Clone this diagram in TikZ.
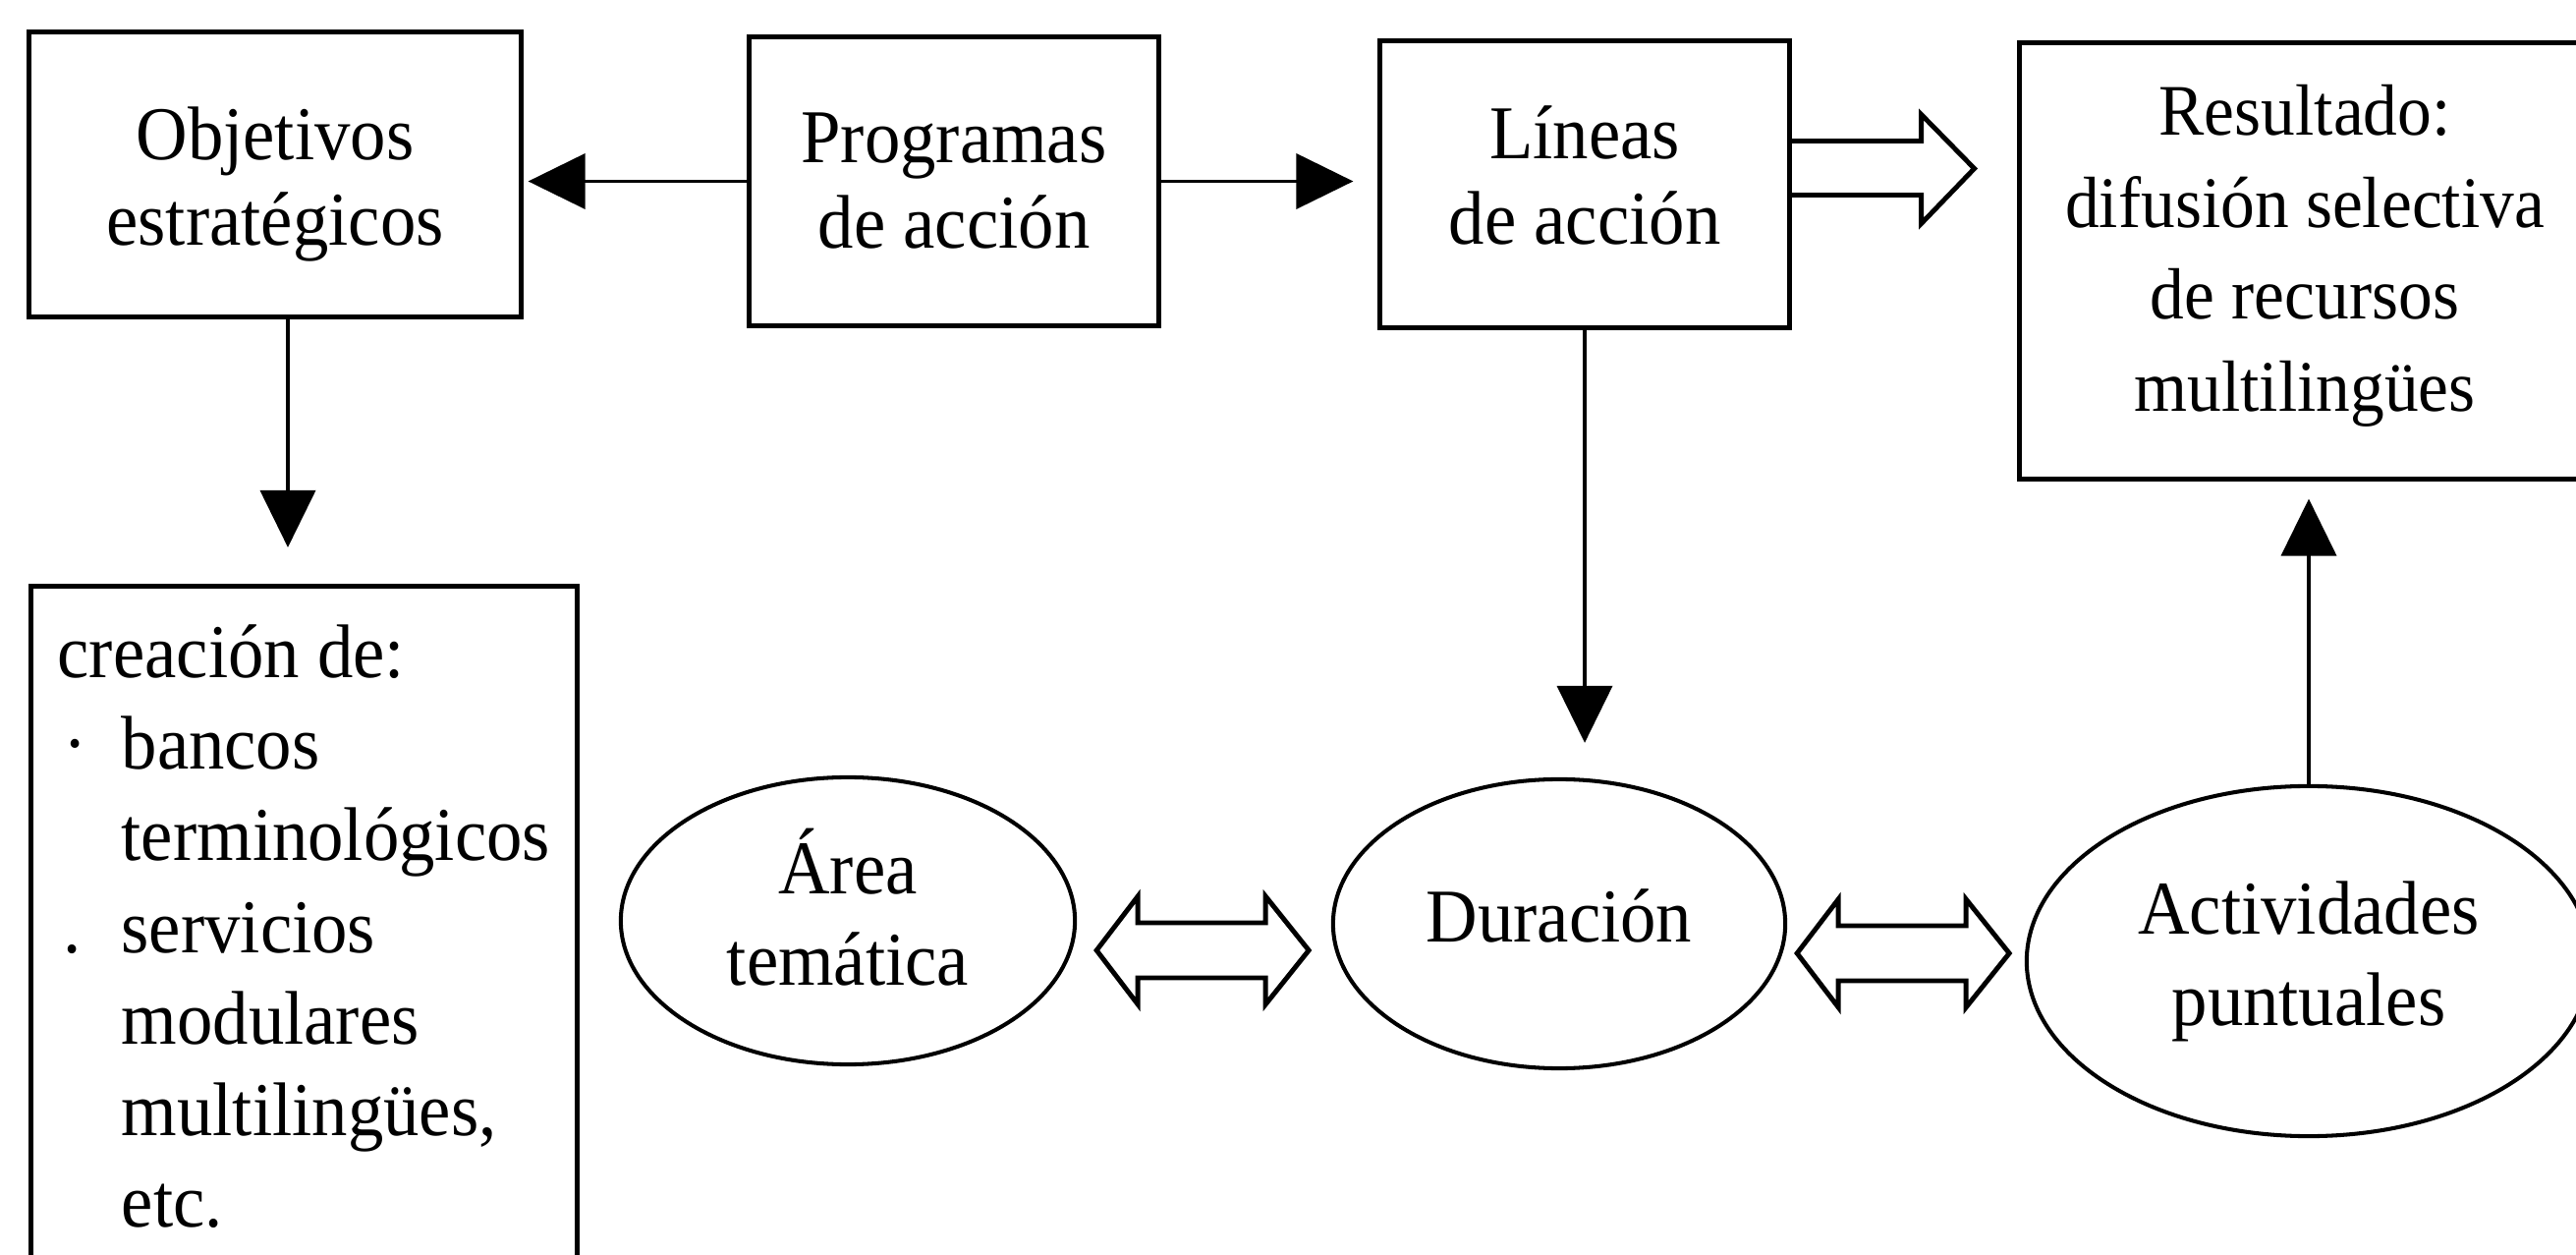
\documentclass[tikz,border=0pt]{standalone}
\usepackage{fontspec}
\setmainfont{Liberation Serif}[FakeStretch=0.94]
\usetikzlibrary{shapes.geometric,arrows.meta,calc}
\newcommand\mytxt{\fontsize{22}{26.5}\selectfont}
\newcommand\restxt{\fontsize{21}{26.6}\selectfont}
% #1 = downward shift, #2 = line spacing factor, #3 = lines
\newcommand\lowered[3]{\raisebox{-#1}[\height][\depth]{\renewcommand\arraystretch{#2}\begin{tabular}{@{}c@{}}#3\end{tabular}}}
\begin{document}
\begin{tikzpicture}[x=0.01cm,y=-0.01cm,
  box/.style={draw, line width=1.4pt, rectangle, inner sep=0pt, font=\mytxt},
  oval/.style={draw, line width=1.15pt, ellipse, inner sep=0pt, font=\mytxt},
  arr/.style={line width=1.05pt, -{Triangle[length=0.58cm,width=0.56cm]}},
  hollow/.style={line width=1.4pt, line join=miter},
  dblarrow/.pic={\draw[hollow] (0,0) -- (42,-55) -- (42,-28) -- (172,-28) -- (172,-55) -- (216,0) -- (172,55) -- (172,28) -- (42,28) -- (42,55) -- cycle;}
]
\fill[white] (0,0) rectangle (2622,1277);
\useasboundingbox (0,0) rectangle (2622,1277);
\clip (0,0) rectangle (2622,1277);

% boxes
\node[box, minimum width=5.00cm, minimum height=2.89cm] (obj) at (280,177.5)
  {\lowered{0.115cm}{0.935}{Objetivos\\estratégicos}};
\node[box, minimum width=4.17cm, minimum height=2.93cm] (prog) at (971,184.5)
  {\lowered{0.075cm}{0.935}{Programas\\de acción}};
\node[box, minimum width=4.16cm, minimum height=2.91cm] (lin) at (1613,187.5)
  {\lowered{0cm}{0.935}{Líneas\\de acción}};
\node[box, font=\restxt, minimum width=5.80cm, minimum height=4.43cm] (res) at (2346,265.5)
  {\lowered{-0.06cm}{1}{Resultado:\\difusión selectiva\\de recursos\\multilingües}};
\node[box, anchor=north west, minimum width=5.56cm, minimum height=7.4cm] (cre) at (29,594) {};
\node[anchor=north west, align=left, font=\mytxt, inner sep=0pt] (cretxt) at (58,635)
  {creación de:\\
   \makebox[0.65cm][l]{\hspace{0.06cm}·}bancos\\
   \hspace*{0.65cm}terminológicos\\
   \makebox[0.65cm][l]{\hspace{0.06cm}.}servicios\\
   \hspace*{0.65cm}modulares\\
   \hspace*{0.65cm}multilingües,\\
   \hspace*{0.65cm}etc.};

% ellipses
\node[oval, minimum width=4.62cm, minimum height=2.92cm] (are) at (863,937) {\lowered{0cm}{1}{Área\\temática}};
\node[oval, minimum width=4.60cm, minimum height=2.94cm] (dur) at (1587,940) {\lowered{0cm}{1}{Duración}};
\node[oval, minimum width=5.74cm, minimum height=3.56cm] (act) at (2350,978) {\lowered{0cm}{1}{Actividades\\puntuales}};

% solid connectors
\draw[arr, shorten >=0.05cm] (prog.west) -- (prog.west -| obj.east);
\draw[arr, shorten >=0.25cm] (prog.east) -- (prog.east -| lin.west);
\draw[arr, shorten >=0.37cm] ([xshift=0.13cm]obj.south) -- ([xshift=0.13cm]obj.south |- cre.north);
\draw[arr, shorten >=0.35cm] (lin.south) -- (lin.south |- dur.north);
\draw[arr, shorten >=0.18cm] (act.north) -- (act.north |- res.south);

% hollow arrow from Lineas to Resultado
\draw[hollow] ([yshift=-1.04cm]lin.north east) -- ++(132,0) -- ++(0,-27) -- ++(54,55) -- ++(-54,56) -- ++(0,-29) -- ++(-132,0);

% hollow double arrows
\coordinate (da1) at ($(are.east)+(20,30)$);
\coordinate (da2) at ($(dur.east)+(10,30)$);
\pic at (da1) {dblarrow};
\pic at (da2) {dblarrow};
\end{tikzpicture}
\end{document}
